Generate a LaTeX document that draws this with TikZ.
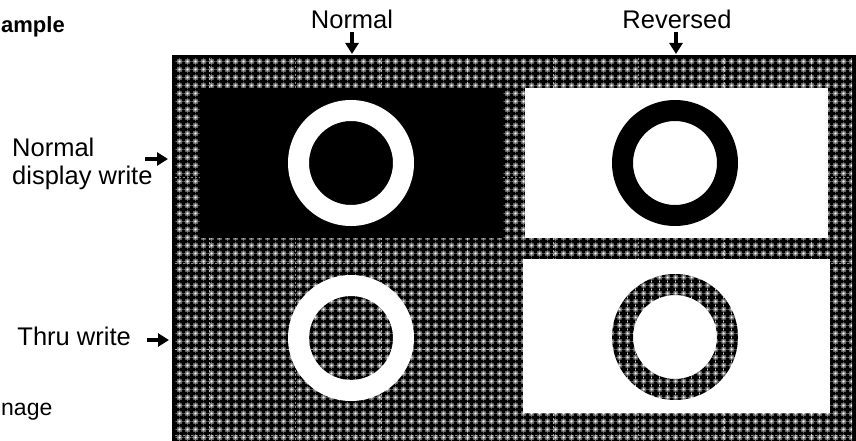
\documentclass[tikz,border=0pt]{standalone}
\usepackage{fontspec}
\setmainfont{Liberation Sans}
\usetikzlibrary{patterns,arrows.meta}
\pgfdeclarepatterninherentlycolored{mesh}{\pgfpointorigin}{\pgfpoint{8pt}{8pt}}{\pgfpoint{8pt}{8pt}}{%
  \pgfsetfillcolor{black!52}%
  \pgfpathrectangle{\pgfpointorigin}{\pgfpoint{8pt}{8pt}}\pgfusepath{fill}%
  \pgfsetfillcolor{white}%
  \pgfpathcircle{\pgfpoint{4pt}{4pt}}{1.3pt}\pgfusepath{fill}%
  \pgfsetfillcolor{black}%
  \foreach \cx in {0,8}{\foreach \cy in {0,8}{%
    \pgfpathrectangle{\pgfpoint{\cx pt-3.4pt}{\cy pt-1.4pt}}{\pgfpoint{6.8pt}{2.8pt}}%
    \pgfpathrectangle{\pgfpoint{\cx pt-1.4pt}{\cy pt-3.4pt}}{\pgfpoint{2.8pt}{6.8pt}}%
    \pgfusepath{fill}}}%
}
\begin{document}
\begin{tikzpicture}[x=1pt,y=-1pt,
  lbl/.style={font=\fontsize{25.5}{28}\selectfont, inner sep=0pt},
  arr/.style={line width=3.8pt, -{Triangle[width=13pt,length=11pt]}},
  seam/.style={white, opacity=.55, line width=.6pt, dash pattern=on 2pt off 2pt}]
\useasboundingbox (0,0) rectangle (856,441);
\begin{scope}
\clip (0,0) rectangle (856,441);
% frame
\fill[black] (172,55) rectangle (860,445);
\fill[pattern=mesh] (175,58) rectangle (852,445);
% seams
\foreach \x in {209,295,381,467,553,638,724,811} \draw[seam] (\x,58) -- (\x,441);
\foreach \y in {177,263,349,435} \draw[seam] (175,\y) -- (852,\y);
% panels
\fill[black] (200,88) rectangle (503,238);
\fill[white] (525,88) rectangle (828,238);
\fill[white] (523,259) rectangle (830,413);
% rings
\fill[white,even odd rule] (351,163) circle[radius=63] (351,163) circle[radius=42];
\fill[black,even odd rule] (675,163) circle[radius=63] (675,163) circle[radius=42];
\fill[white,even odd rule] (351,338) circle[radius=63] (351,338) circle[radius=42];
\fill[pattern=mesh,even odd rule] (675,337) circle[radius=63] (675,337) circle[radius=42];
% labels
\node[lbl,anchor=base west,font=\fontsize{22}{24}\selectfont\bfseries] (ex) at (1,33) {ample};
\node[lbl,anchor=base west,font=\fontsize{23}{26}\selectfont] (img) at (1,415) {nage};
\node[lbl,anchor=base] (ln) at (352,29) {Normal};
\node[lbl,anchor=base] (lr) at (677,29) {Reversed};
\node[lbl,anchor=base west,align=left] (ld) at (12,184) {Normal\\display write};
\node[lbl,anchor=base east] (lt) at (131,345) {Thru write};
% arrows
\coordinate (na) at (352,32); \coordinate (nb) at (352,54);
\coordinate (ra) at (676,32); \coordinate (rb) at (676,54);
\coordinate (da) at (145,159); \coordinate (db) at (168,159);
\coordinate (ta) at (147,340); \coordinate (tb) at (169,340);
\draw[arr] (na) -- (nb);
\draw[arr] (ra) -- (rb);
\draw[arr] (da) -- (db);
\draw[arr] (ta) -- (tb);
\end{scope}
\end{tikzpicture}
\end{document}
